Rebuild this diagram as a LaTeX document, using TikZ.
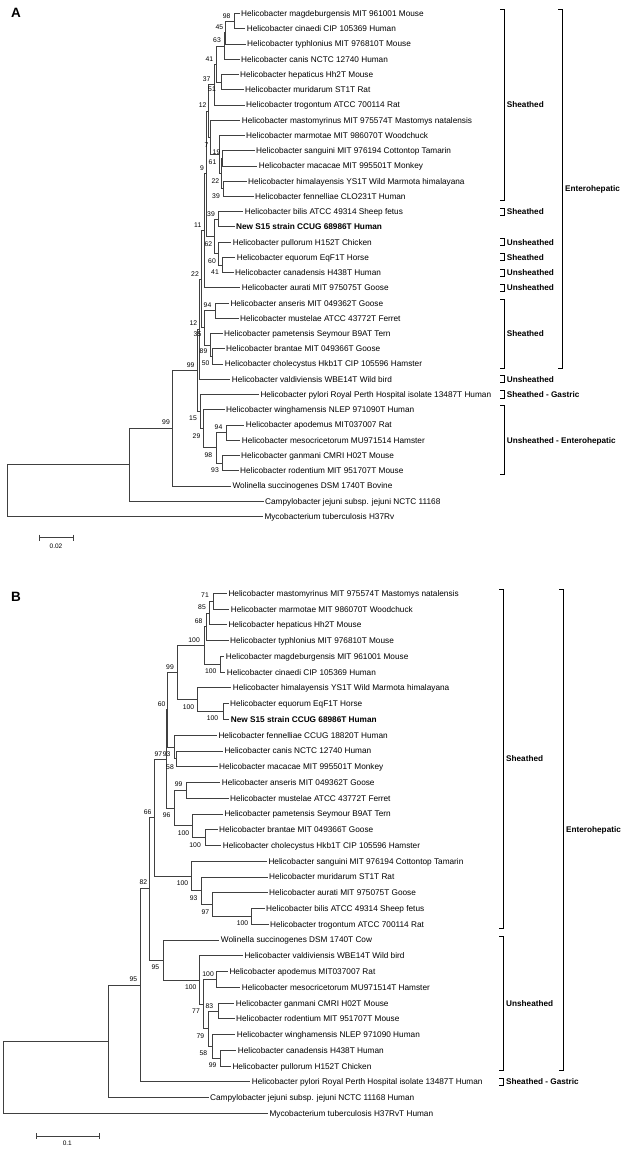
\documentclass[tikz,border=0pt]{standalone}
\usepackage{fontspec}
\setmainfont{Liberation Sans}
\usetikzlibrary{calc}
\tikzset{
  br/.style={line width=0.75pt, draw=black!75},
  leaf/.style={anchor=west, inner xsep=1.5pt, inner ysep=0pt, text height=5.9pt, text depth=0pt, font=\fontsize{8.25}{9}\selectfont},
  leafb/.style={leaf, font=\fontsize{8.25}{9}\selectfont\bfseries},
  bs/.style={anchor=east, inner sep=0pt, font=\fontsize{6.8}{7}\selectfont},
  grp/.style={anchor=west, inner sep=0pt, text height=5.9pt, text depth=0pt, font=\fontsize{8.2}{9}\selectfont\bfseries},
  brk/.style={line width=1pt, draw=black},
  panel/.style={inner sep=0pt, font=\fontsize{13.5}{15}\selectfont\bfseries},
  sclab/.style={inner sep=0pt, font=\fontsize{6.5}{7}\selectfont},
}
\newcommand\mktn[4]{%
  \coordinate (#1m) at ($(#3)!0.5!(#4)$);
  \coordinate (#1) at (#2,0 |- #1m);
  \draw[br] (#1) |- (#3);
  \draw[br] (#1) |- (#4);}
\newcommand\brak[5]{%
  \draw[brk] (#2-4,#3) -- (#2,#3) -- (#2,#4) -- (#2-4,#4);
  \node[grp] (#1) at (#2+2.7,{(#3+#4)/2}) {#5};}
\begin{document}
\begin{tikzpicture}[x=1pt,y=-1pt]
\useasboundingbox (0,0) rectangle (632,1152);
\fill[white] (0,0) rectangle (632,1152);
% ================= PANEL A =================
\node[panel] (pA) at (16,13) {A};
\node[leaf] (A1) at (239.5,13.50) {Helicobacter magdeburgensis MIT 961001 Mouse};
\node[leaf] (A2) at (245.2,28.74) {Helicobacter cinaedi CIP 105369 Human};
\node[leaf] (A3) at (245.5,43.98) {Helicobacter typhlonius MIT 976810T Mouse};
\node[leaf] (A4) at (239.5,59.22) {Helicobacter canis NCTC 12740 Human};
\node[leaf] (A5) at (238.5,74.46) {Helicobacter hepaticus Hh2T Mouse};
\node[leaf] (A6) at (243.5,89.70) {Helicobacter muridarum ST1T Rat};
\node[leaf] (A7) at (244.5,104.94) {Helicobacter trogontum ATCC 700114 Rat};
\node[leaf] (A8) at (240.2,120.18) {Helicobacter mastomyrinus MIT 975574T Mastomys natalensis};
\node[leaf] (A9) at (244.5,135.42) {Helicobacter marmotae MIT 986070T Woodchuck};
\node[leaf] (A10) at (254.5,150.66) {Helicobacter sanguini MIT 976194 Cottontop Tamarin};
\node[leaf] (A11) at (257.2,165.90) {Helicobacter macacae MIT 995501T Monkey};
\node[leaf] (A12) at (246.5,181.14) {Helicobacter himalayensis YS1T Wild Marmota himalayana};
\node[leaf] (A13) at (253.5,196.38) {Helicobacter fennelliae CLO231T Human};
\node[leaf] (A14) at (243.2,211.62) {Helicobacter bilis ATCC 49314 Sheep fetus};
\node[leafb] (A15) at (234.5,226.86) {New S15 strain CCUG 68986T Human};
\node[leaf] (A16) at (231.2,242.10) {Helicobacter pullorum H152T Chicken};
\node[leaf] (A17) at (235.2,257.34) {Helicobacter equorum EqF1T Horse};
\node[leaf] (A18) at (233.5,272.58) {Helicobacter canadensis H438T Human};
\node[leaf] (A19) at (240.2,287.82) {Helicobacter aurati MIT 975075T Goose};
\node[leaf] (A20) at (228.8,303.06) {Helicobacter anseris MIT 049362T Goose};
\node[leaf] (A21) at (238.5,318.30) {Helicobacter mustelae ATCC 43772T Ferret};
\node[leaf] (A22) at (222.5,333.54) {Helicobacter pametensis Seymour B9AT Tern};
\node[leaf] (A23) at (224.5,348.78) {Helicobacter brantae MIT 049366T Goose};
\node[leaf] (A24) at (223.2,364.02) {Helicobacter cholecystus Hkb1T CIP 105596 Hamster};
\node[leaf] (A25) at (230.2,379.26) {Helicobacter valdiviensis WBE14T Wild bird};
\node[leaf] (A26) at (258.8,394.50) {Helicobacter pylori Royal Perth Hospital isolate 13487T Human};
\node[leaf] (A27) at (224.5,409.74) {Helicobacter winghamensis NLEP 971090T Human};
\node[leaf] (A28) at (244.2,424.98) {Helicobacter apodemus MIT037007 Rat};
\node[leaf] (A29) at (240.2,440.22) {Helicobacter mesocricetorum MU971514 Hamster};
\node[leaf] (A30) at (239.5,455.46) {Helicobacter ganmani CMRI H02T Mouse};
\node[leaf] (A31) at (238.5,470.70) {Helicobacter rodentium MIT 951707T Mouse};
\node[leaf] (A32) at (230.8,485.94) {Wolinella succinogenes DSM 1740T Bovine};
\node[leaf] (A33) at (263.5,501.18) {Campylobacter jejuni subsp. jejuni NCTC 11168};
\node[leaf] (A34) at (262.8,516.42) {Mycobacterium tuberculosis H37Rv};
\mktn{a1}{234}{A1.west}{A2.west}
\mktn{a2}{225.7}{a1}{A3.west}
\mktn{a3}{224.7}{a2}{A4.west}
\mktn{a4}{221}{A5.west}{A6.west}
\mktn{a5}{216}{a3}{a4}
\mktn{a6}{214}{a5}{A7.west}
\mktn{b1}{222.7}{A10.west}{A11.west}
\mktn{c1}{223.3}{A12.west}{A13.west}
\mktn{c2}{221.2}{b1}{c1}
\mktn{c3}{219.5}{A9.west}{c2}
\mktn{a8}{210.7}{A8.west}{c3}
\mktn{a9}{208.3}{a6}{a8}
\mktn{d1}{218}{A14.west}{A15.west}
\mktn{e1}{222.7}{A17.west}{A18.west}
\mktn{e2}{218.5}{A16.west}{e1}
\mktn{d2}{214.5}{d1}{e2}
\mktn{a10}{206}{a9}{d2}
\mktn{a11}{204}{a10}{A19.west}
\mktn{f1}{215}{A20.west}{A21.west}
\mktn{f2}{212.7}{A23.west}{A24.west}
\mktn{f3}{210}{A22.west}{f2}
\mktn{f4}{204.7}{f1}{f3}
\mktn{a12}{201.7}{a11}{f4}
\mktn{a13}{199.3}{a12}{A25.west}
\mktn{g1}{226.7}{A28.west}{A29.west}
\mktn{g2}{222.3}{A30.west}{A31.west}
\mktn{g3}{216.7}{g1}{g2}
\mktn{g4}{203.3}{A27.west}{g3}
\mktn{g5}{200}{A26.west}{g4}
\mktn{h1}{197.5}{a13}{g5}
\mktn{h2}{172.3}{h1}{A32.west}
\mktn{h3}{129}{h2}{A33.west}
\mktn{ra}{7.3}{h3}{A34.west}
% bootstrap A
\node[bs] (nA1) at (230.7,15.7) {98};
\node[bs] (nA2) at (223.3,26.7) {45};
\node[bs] (nA3) at (221,40) {63};
\node[bs] (nA4) at (213.3,59) {41};
\node[bs] (nA5) at (210.7,79) {37};
\node[bs] (nA6) at (216,89) {51};
\node[bs] (nA7) at (206.7,105) {12};
\node[bs] (nA8) at (208.7,145) {7};
\node[bs] (nA9) at (220.5,152.3) {19};
\node[bs] (nA10) at (216.5,161.7) {61};
\node[bs] (nA11) at (204,168.3) {9};
\node[bs] (nA12) at (219.3,181) {22};
\node[bs] (nA13) at (220,195.7) {39};
\node[bs] (nA14) at (215,214) {39};
\node[bs] (nA15) at (201.5,225.5) {11};
\node[bs] (nA16) at (212.3,244) {62};
\node[bs] (nA17) at (216,260.7) {60};
\node[bs] (nA18) at (219,272.3) {41};
\node[bs] (nA19) at (199,274) {22};
\node[bs] (nA20) at (211.5,305.3) {94};
\node[bs] (nA21) at (197.3,323.5) {12};
\node[bs] (nA22) at (201.5,334) {35};
\node[bs] (nA23) at (207.5,351.5) {89};
\node[bs] (nA24) at (209.7,363.3) {50};
\node[bs] (nA25) at (194.7,365.5) {99};
\node[bs] (nA26) at (197,418.3) {15};
\node[bs] (nA27) at (170,422.3) {99};
\node[bs] (nA28) at (222.5,426.7) {94};
\node[bs] (nA29) at (200.5,436) {29};
\node[bs] (nA30) at (212.3,455) {98};
\node[bs] (nA31) at (219,470.3) {93};
% brackets A
\brak{gA1}{504}{9.5}{200.4}{Sheathed}
\brak{gA2}{504}{208}{215.2}{Sheathed}
\brak{gA3}{504}{238.5}{245.7}{Unsheathed}
\brak{gA4}{504}{253.7}{260.9}{Sheathed}
\brak{gA5}{504}{269}{276.2}{Unsheathed}
\brak{gA6}{504}{284.2}{291.4}{Unsheathed}
\brak{gA7}{504}{299.1}{368.0}{Sheathed}
\brak{gA8}{504}{375.7}{382.9}{Unsheathed}
\brak{gA9}{504}{390.9}{398.1}{Sheathed - Gastric}
\brak{gA10}{504}{405.7}{474.7}{Unsheathed - Enterohepatic}
\brak{gA11}{562.3}{9.5}{368.0}{Enterohepatic}
% scale bar A
\coordinate (sA1) at (39.3,537.7);
\coordinate (sA2) at (73.3,537.7);
\draw[br] (sA1) -- (sA2);
\draw[br] ($(sA1)+(0,-3)$) -- ($(sA1)+(0,3)$);
\draw[br] ($(sA2)+(0,-3)$) -- ($(sA2)+(0,3)$);
\node[sclab] (sAl) at (56,546) {0.02};
% ================= PANEL B =================
\node[panel] (pB) at (16,597) {B};
\node[leaf] (B1) at (226.8,593.30) {Helicobacter mastomyrinus MIT 975574T Mastomys natalensis};
\node[leaf] (B2) at (229.2,609.06) {Helicobacter marmotae MIT 986070T Woodchuck};
\node[leaf] (B3) at (226.8,624.82) {Helicobacter hepaticus Hh2T Mouse};
\node[leaf] (B4) at (228.5,640.58) {Helicobacter typhlonius MIT 976810T Mouse};
\node[leaf] (B5) at (224.2,656.34) {Helicobacter magdeburgensis MIT 961001 Mouse};
\node[leaf] (B6) at (225.2,672.10) {Helicobacter cinaedi CIP 105369 Human};
\node[leaf] (B7) at (231.2,687.86) {Helicobacter himalayensis YS1T Wild Marmota himalayana};
\node[leaf] (B8) at (228.5,703.62) {Helicobacter equorum EqF1T Horse};
\node[leafb] (B9) at (229.2,719.38) {New S15 strain CCUG 68986T Human};
\node[leaf] (B10) at (216.8,735.14) {Helicobacter fennelliae CCUG 18820T Human};
\node[leaf] (B11) at (222.8,750.90) {Helicobacter canis NCTC 12740 Human};
\node[leaf] (B12) at (217.5,766.66) {Helicobacter macacae MIT 995501T Monkey};
\node[leaf] (B13) at (220.2,782.42) {Helicobacter anseris MIT 049362T Goose};
\node[leaf] (B14) at (228.5,798.18) {Helicobacter mustelae ATCC 43772T Ferret};
\node[leaf] (B15) at (222.8,813.94) {Helicobacter pametensis Seymour B9AT Tern};
\node[leaf] (B16) at (217.5,829.70) {Helicobacter brantae MIT 049366T Goose};
\node[leaf] (B17) at (221.2,845.46) {Helicobacter cholecystus Hkb1T CIP 105596 Hamster};
\node[leaf] (B18) at (266.8,861.22) {Helicobacter sanguini MIT 976194 Cottontop Tamarin};
\node[leaf] (B19) at (267.5,876.98) {Helicobacter muridarum ST1T Rat};
\node[leaf] (B20) at (267.5,892.74) {Helicobacter aurati MIT 975075T Goose};
\node[leaf] (B21) at (264.5,908.50) {Helicobacter bilis ATCC 49314 Sheep fetus};
\node[leaf] (B22) at (268.5,924.26) {Helicobacter trogontum ATCC 700114 Rat};
\node[leaf] (B23) at (219.2,940.02) {Wolinella succinogenes DSM 1740T Cow};
\node[leaf] (B24) at (242.8,955.78) {Helicobacter valdiviensis WBE14T Wild bird};
\node[leaf] (B25) at (227.8,971.54) {Helicobacter apodemus MIT037007 Rat};
\node[leaf] (B26) at (240.2,987.30) {Helicobacter mesocricetorum MU971514T Hamster};
\node[leaf] (B27) at (234.2,1003.06) {Helicobacter ganmani CMRI H02T Mouse};
\node[leaf] (B28) at (234.5,1018.82) {Helicobacter rodentium MIT 951707T Mouse};
\node[leaf] (B29) at (235.2,1034.58) {Helicobacter winghamensis NLEP 971090 Human};
\node[leaf] (B30) at (236.2,1050.34) {Helicobacter canadensis H438T Human};
\node[leaf] (B31) at (230.8,1066.10) {Helicobacter pullorum H152T Chicken};
\node[leaf] (B32) at (250.2,1081.86) {Helicobacter pylori Royal Perth Hospital isolate 13487T Human};
\node[leaf] (B33) at (208.5,1097.62) {Campylobacter jejuni subsp. jejuni NCTC 11168 Human};
\node[leaf] (B34) at (267.8,1113.38) {Mycobacterium tuberculosis H37RvT Human};
\mktn{m1}{213.3}{B1.west}{B2.west}
\mktn{m2}{209.3}{m1}{B3.west}
\mktn{m3}{206}{m2}{B4.west}
\mktn{m4}{220}{B5.west}{B6.west}
\mktn{m5}{204}{m3}{m4}
\mktn{n1}{223.3}{B8.west}{B9.west}
\mktn{n2}{197.7}{B7.west}{n1}
\mktn{m6}{177.7}{m5}{n2}
\mktn{p1}{176.7}{B11.west}{B12.west}
\mktn{p2}{174}{B10.west}{p1}
\mktn{r1}{167.7}{m6}{p2}
\mktn{q1}{186.7}{B13.west}{B14.west}
\mktn{q2}{205}{B16.west}{B17.west}
\mktn{q3}{192.3}{B15.west}{q2}
\mktn{q4}{174}{q1}{q3}
\mktn{r2}{166}{r1}{q4}
\mktn{t1}{251.7}{B21.west}{B22.west}
\mktn{t2}{212.3}{B20.west}{t1}
\mktn{t3}{201.7}{B19.west}{t2}
\mktn{t4}{191.7}{B18.west}{t3}
\mktn{s1}{154.3}{r2}{t4}
\mktn{u1}{216.7}{B25.west}{B26.west}
\mktn{u2}{218.3}{B27.west}{B28.west}
\mktn{w1}{220}{B30.west}{B31.west}
\mktn{w2}{212.3}{B29.west}{w1}
\mktn{w3}{208.3}{u2}{w2}
\mktn{w4}{203.5}{u1}{w3}
\mktn{v1}{199.3}{B24.west}{w4}
\mktn{v2}{163.3}{B23.west}{v1}
\mktn{s2}{149.5}{s1}{v2}
\mktn{s3}{140}{s2}{B32.west}
\mktn{s4}{108.5}{s3}{B33.west}
\mktn{rb}{3.3}{s4}{B34.west}
% bootstrap B
\node[bs] (nB1) at (209,595) {71};
\node[bs] (nB2) at (206,606.7) {85};
\node[bs] (nB3) at (202.7,620.7) {68};
\node[bs] (nB4) at (200,640) {100};
\node[bs] (nB5) at (216.7,671) {100};
\node[bs] (nB6) at (174,666.7) {99};
\node[bs] (nB7) at (194.3,706.7) {100};
\node[bs] (nB8) at (218.3,717.7) {100};
\node[bs] (nB9) at (165.7,704) {60};
\node[bs] (nB10) at (162.3,754) {97};
\node[bs] (nB11) at (170.7,754) {93};
\node[bs] (nB12) at (174,766.7) {58};
\node[bs] (nB13) at (182.7,784.3) {99};
\node[bs] (nB14) at (151.7,811.7) {66};
\node[bs] (nB15) at (170.7,815) {96};
\node[bs] (nB16) at (189.3,833.3) {100};
\node[bs] (nB17) at (201,845) {100};
\node[bs] (nB18) at (147.3,882.3) {82};
\node[bs] (nB19) at (188.3,882.7) {100};
\node[bs] (nB20) at (197.7,897.7) {93};
\node[bs] (nB21) at (209.3,911.7) {97};
\node[bs] (nB22) at (248.3,922.7) {100};
\node[bs] (nB23) at (159.3,966.7) {95};
\node[bs] (nB24) at (214,974) {100};
\node[bs] (nB25) at (137.3,979.3) {95};
\node[bs] (nB26) at (196.7,986.7) {100};
\node[bs] (nB27) at (213.3,1006) {83};
\node[bs] (nB28) at (200,1010.7) {77};
\node[bs] (nB29) at (204.3,1036) {79};
\node[bs] (nB30) at (207.3,1053.3) {58};
\node[bs] (nB31) at (216.7,1065) {99};
% brackets B
\brak{gB1}{503.3}{589.3}{928.3}{Sheathed}
\brak{gB2}{503.3}{936}{1070.1}{Unsheathed}
\brak{gB3}{503.3}{1078.2}{1085.5}{Sheathed - Gastric}
\brak{gB4}{563.3}{589.3}{1070.1}{Enterohepatic}
% scale bar B
\coordinate (sB1) at (36,1136);
\coordinate (sB2) at (99,1136);
\draw[br] (sB1) -- (sB2);
\draw[br] ($(sB1)+(0,-3)$) -- ($(sB1)+(0,3)$);
\draw[br] ($(sB2)+(0,-3)$) -- ($(sB2)+(0,3)$);
\node[sclab] (sBl) at (67.3,1143.5) {0.1};
\end{tikzpicture}
\end{document}
